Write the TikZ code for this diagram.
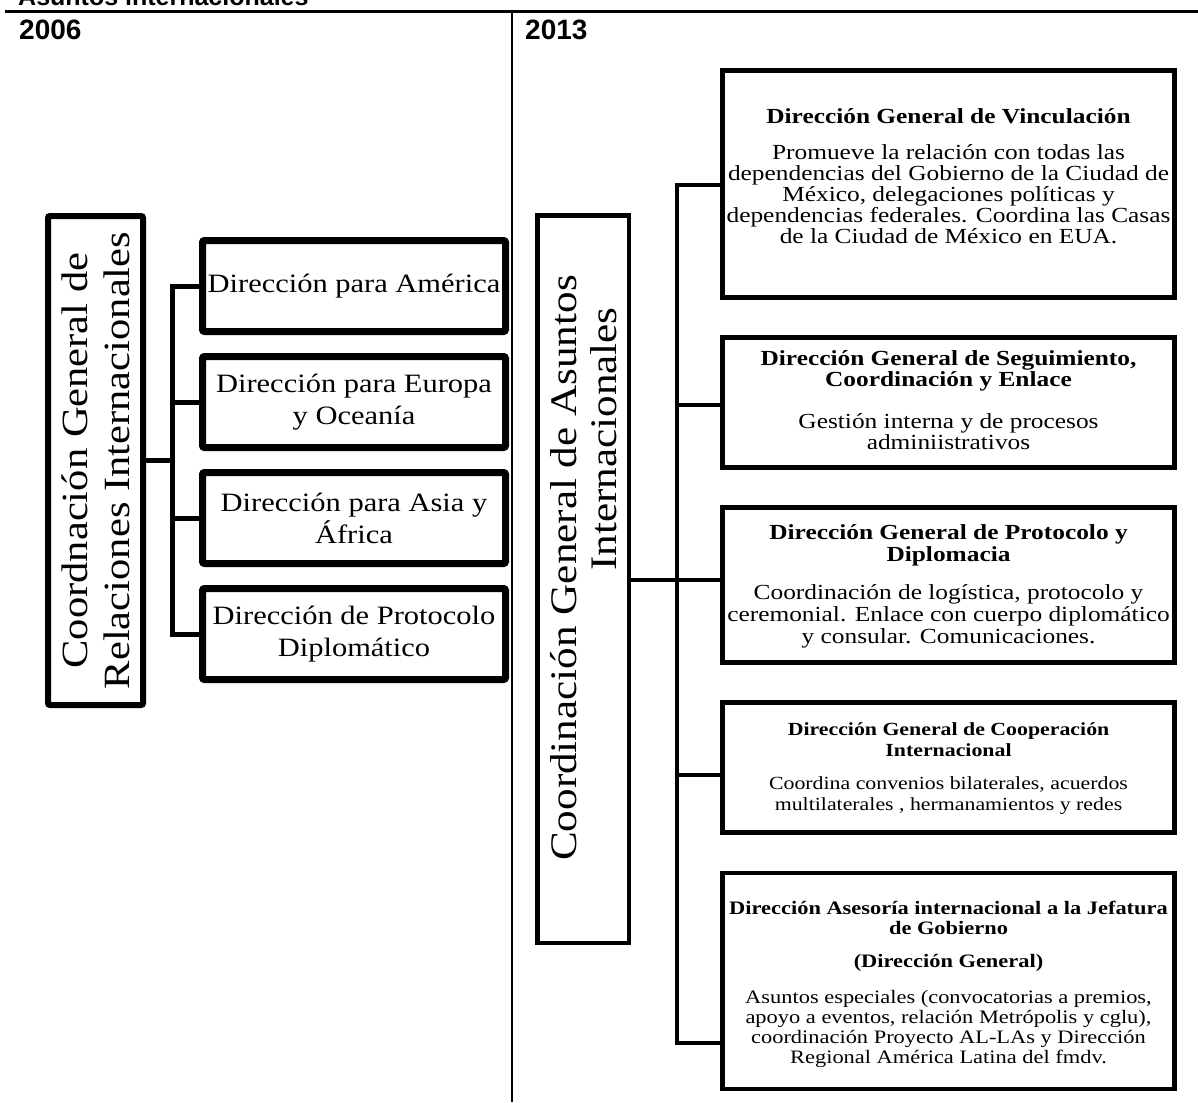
\documentclass[tikz,border=0pt]{standalone}
\usepackage{fontspec}
\setmainfont{Liberation Serif}[FakeStretch=1.15]
\newfontfamily\rfont{Liberation Serif}[FakeStretch=1.18]
\newfontfamily\hfont{Liberation Sans}
\usetikzlibrary{shadows}
\begin{document}
\begin{tikzpicture}[x=1pt,y=-1pt,
  shad/.style={drop shadow={shadow xshift=2pt,shadow yshift=-2pt,opacity=0.35,fill=black!70}},
  lbox/.style={draw,line width=7pt,rounded corners=2pt,inner sep=0pt,fill=white,shad,
    minimum width=303pt,minimum height=91pt,align=center,font=\fontsize{26.5}{32}\selectfont},
  lmain/.style={draw,line width=6pt,rounded corners=2pt,inner sep=0pt,fill=white,shad},
  rmain/.style={draw,line width=4.5pt,inner sep=0pt,fill=white,shad},
  rbox/.style={draw,line width=4.5pt,inner sep=0pt,fill=white,shad,minimum width=452pt},
  lconn/.style={line width=5pt,line cap=rect},
  rconn/.style={line width=4.5pt,line cap=rect},
  rtext/.style={align=center,inner sep=0pt},
  yearf/.style={anchor=base west,inner sep=0pt,font=\hfont\bfseries\fontsize{28}{32}\selectfont}]
\useasboundingbox (0,0) rectangle (1198,1102);
\fill[white] (0,0) rectangle (1198,1102);
% header
\node[anchor=base west,inner sep=0pt,font=\hfont\bfseries\fontsize{25}{30}\selectfont] (title) at (18,6) {Asuntos internacionales};
\coordinate (hl) at (5,12);
\coordinate (hr) at (1198,12);
\draw[line width=3pt] (hl) -- (hr);
\coordinate (vt) at (512,12);
\coordinate (vb) at (512,1102);
\draw[line width=2.5pt] (vt) -- (vb);
\node[yearf] (y06) at (19,40) {2006};
\node[yearf] (y13) at (525,40) {2013};
% ---------- 2006 ----------
\node[lmain,minimum width=95pt,minimum height=489pt] (lm) at (95.5,460.5) {};
\node[rotate=90,align=center,inner sep=0pt,font=\fontsize{37}{42}\selectfont] (lmt) at (lm.center) {Coordnación General de\\Relaciones Internacionales};
\node[lbox] (l1) at (354,286) {Dirección para América};
\node[lbox] (l2) at (354,402) {Dirección para Europa\\y Oceanía};
\node[lbox] (l3) at (354,518) {Dirección para Asia y\\África};
\node[lbox] (l4) at (354,634) {Dirección de Protocolo\\Diplomático};
\coordinate (lv1) at (172,286);
\coordinate (lv4) at (172,634);
\draw[lconn] (lv1) -- (lv4);
\draw[lconn] (lm.east) -- (lm.east -| lv1);
\foreach \i in {1,...,4}{\draw[lconn] (l\i.west -| lv1) -- (l\i.west);}
% ---------- 2013 ----------
\node[rmain,minimum width=91.5pt,minimum height=727.5pt] (rm) at (583,579) {};
\node[rotate=90,align=center,inner sep=0pt,font=\fontsize{37.5}{40}\selectfont] (rmt) at (584,568) {Coordinación General de Asuntos\\\hspace*{258pt}Internacionales};
\node[rbox,minimum height=227pt] (r1) at (948.5,184) {};
\node[rbox,minimum height=130pt] (r2) at (948.5,402.5) {};
\node[rbox,minimum height=155pt] (r3) at (948.5,585) {};
\node[rbox,minimum height=130pt] (r4) at (948.5,767.5) {};
\node[rbox,minimum height=216pt] (r5) at (948.5,981) {};
\node[rtext,font=\rfont\fontsize{21.5}{21}\selectfont] (r1t) at (948.5,176) {\textbf{Dirección General de Vinculación}\\[15pt]
Promueve la relación con todas las\\dependencias del Gobierno de la Ciudad de\\México, delegaciones políticas y\\dependencias federales. Coordina las Casas\\de la Ciudad de México en EUA.};
\node[rtext,font=\rfont\fontsize{21.5}{21}\selectfont] (r2t) at (948.5,400) {\textbf{Dirección General de Seguimiento,}\\\textbf{Coordinación y Enlace}\\[21pt]
Gestión interna y de procesos\\adminiistrativos};
\node[rtext,font=\rfont\fontsize{21.5}{22}\selectfont] (r3t) at (948.5,586) {\textbf{Dirección General de Protocolo y}\\\textbf{Diplomacia}\\[16pt]
Coordinación de logística, protocolo y\\ceremonial. Enlace con cuerpo diplomático\\y consular. Comunicaciones.};
\node[rtext,font=\rfont\fontsize{18.5}{21}\selectfont] (r4t) at (948.5,769) {\textbf{Dirección General de Cooperación}\\\textbf{Internacional}\\[12pt]
Coordina convenios bilaterales, acuerdos\\multilaterales , hermanamientos y redes};
\node[rtext,font=\rfont\fontsize{19}{20}\selectfont] (r5t) at (948.5,984) {\textbf{Dirección Asesoría internacional a la Jefatura}\\\textbf{de Gobierno}\\[13pt]
\textbf{(Dirección General)}\\[16pt]
Asuntos especiales (convocatorias a premios,\\apoyo a eventos, relación Metrópolis y cglu),\\coordinación Proyecto AL-LAs y Dirección\\Regional América Latina del fmdv.};
\coordinate (c1) at (677,185);
\coordinate (c2) at (677,405);
\coordinate (c3) at (677,580);
\coordinate (c4) at (677,775);
\coordinate (c5) at (677,1043);
\draw[rconn] (c1) -- (c5);
\foreach \i in {1,...,5}{\draw[rconn] (c\i) -- (c\i -| r\i.west);}
\draw[rconn] (rm.east |- c3) -- (c3);
\end{tikzpicture}
\end{document}
